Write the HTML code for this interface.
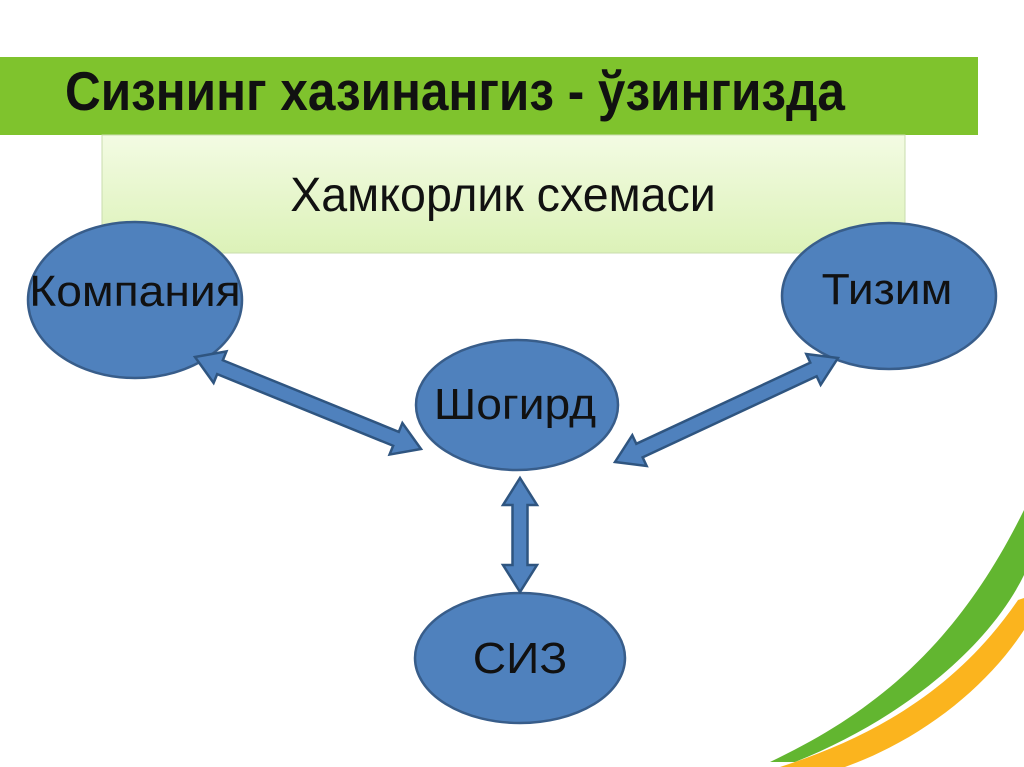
<!DOCTYPE html>
<html><head><meta charset="utf-8"><style>
html,body{margin:0;padding:0;background:#fff;}
body{width:1024px;height:767px;overflow:hidden;position:relative;font-family:"Liberation Sans",sans-serif;}
</style></head><body>
<svg width="1024" height="767" viewBox="0 0 1024 767" style="position:absolute;left:0;top:0">
<defs>
<linearGradient id="lg" x1="0" y1="0" x2="0" y2="1">
<stop offset="0" stop-color="#f3fbe3"/><stop offset="1" stop-color="#dcf2b8"/>
</linearGradient>
</defs>
<path d="M1024,510 C960,640 880,710 770,762 L795,762 C905,718 990,645 1024,575 Z" fill="#62b630"/>
<path d="M1018,600 C960,685 880,735 780,767 L845,767 C925,738 988,685 1024,630 L1024,598 Z" fill="#fbb41e"/>
<rect x="0" y="57" width="978" height="78" fill="#7fc32d"/>
<text x="65" y="110" font-family="Liberation Sans" font-weight="bold" font-size="55" fill="#111" transform="translate(65,0) scale(0.9,1) translate(-65,0)">Сизнинг хазинангиз - ўзингизда</text>
<rect x="102" y="135" width="803" height="118" fill="url(#lg)" stroke="#c9dcae" stroke-width="1"/>
<text x="503" y="211" text-anchor="middle" font-size="48" fill="#111" transform="translate(503,0) scale(0.97,1) translate(-503,0)">Хамкорлик схемаси</text>
<g fill="#4f81bd" stroke="#385d8a" stroke-width="2.5">
<ellipse cx="135" cy="300" rx="107" ry="78"/>
<ellipse cx="889" cy="296" rx="107" ry="73"/>
<ellipse cx="517" cy="405" rx="101" ry="65"/>
<ellipse cx="520" cy="658" rx="105" ry="65"/>
</g>
<g font-size="44" fill="#111" text-anchor="middle">
<text x="135" y="306" transform="translate(135,0) scale(1.05,1) translate(-135,0)">Компания</text>
<text x="887" y="304" transform="translate(887,0) scale(1.05,1) translate(-887,0)">Тизим</text>
<text x="515" y="419" transform="translate(515,0) scale(1.05,1) translate(-515,0)">Шогирд</text>
<text x="520" y="673" transform="translate(520,0) scale(1.05,1) translate(-520,0)">СИЗ</text>
</g>
<g fill="#4f81bd" stroke="#2f5580" stroke-width="2.5" stroke-linejoin="miter">
<polygon transform="translate(195,357) rotate(22.15)" points="0,0 27,-17 27,-7.5 217,-7.5 217,-17 244,0 217,17 217,7.5 27,7.5 27,17"/>
<polygon transform="translate(615,462) rotate(-25)" points="0,0 27,-17 27,-7.5 219,-7.5 219,-17 246,0 219,17 219,7.5 27,7.5 27,17"/>
<polygon transform="translate(520,478) rotate(90)" points="0,0 27,-17 27,-7.5 87,-7.5 87,-17 114,0 87,17 87,7.5 27,7.5 27,17"/>
</g>
</svg>
</body></html>
